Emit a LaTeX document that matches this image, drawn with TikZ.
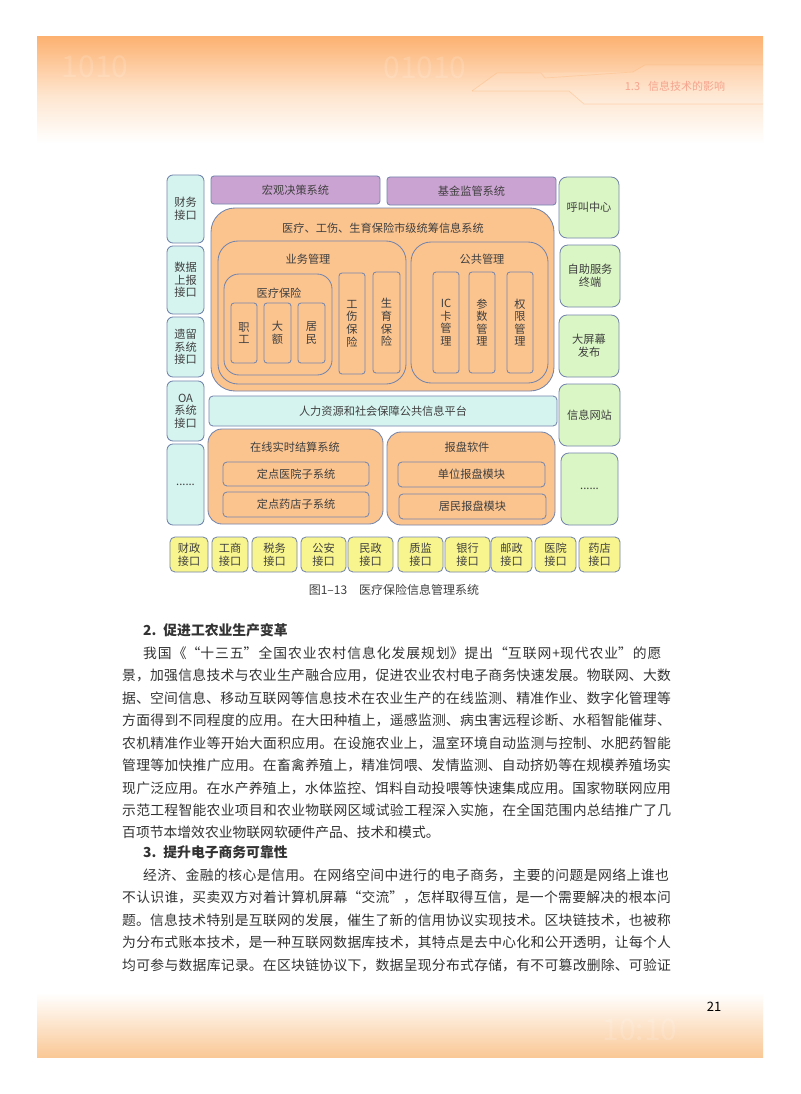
\documentclass[tikz,border=0pt]{standalone}
\usepackage{fontspec}
\usetikzlibrary{fadings}
\setmainfont{Noto Sans CJK SC}
\XeTeXlinebreaklocale "zh"
\XeTeXlinebreakskip=0pt plus 2pt minus 0.3pt
\definecolor{edgeblue}{HTML}{7485AC}
\definecolor{fillorange}{HTML}{FBC48F}
\definecolor{fillpurple}{HTML}{CBA3D2}
\definecolor{fillteal}{HTML}{D6F4EF}
\definecolor{fillgreen}{HTML}{DAF6C4}
\definecolor{fillyellow}{HTML}{F8F58E}
\definecolor{inktext}{HTML}{3F3F3F}
\definecolor{bodyink}{HTML}{333333}
\definecolor{bandhi}{HTML}{FDB272}
\definecolor{bandmid}{HTML}{FEE6D0}
\definecolor{bandlow}{HTML}{FAC896}
\definecolor{headpink}{HTML}{F6A48E}
\tikzset{
  boxbase/.style={draw=edgeblue,line width=0.85pt,inner sep=0pt,outer sep=0pt,align=center,text=inktext,font=\fontsize{11.2}{12.6}\selectfont},
  boxteal/.style={boxbase,fill=fillteal,rounded corners=6pt},
  boxgreen/.style={boxbase,fill=fillgreen,rounded corners=8pt},
  boxyellow/.style={boxbase,fill=fillyellow,rounded corners=5pt},
  boxpurple/.style={boxbase,fill=fillpurple,rounded corners=3pt},
  boxorange/.style={boxbase,fill=fillorange,rounded corners=3pt},
  boxslot/.style={boxorange,rounded corners=3pt},
  boxinner/.style={boxbase,fill=fillorange,rounded corners=4pt},
  titletext/.style={inner sep=0pt,text=inktext,font=\fontsize{11.2}{12.6}\selectfont},
  captiontext/.style={inner sep=0pt,text=inktext,font=\fontsize{12}{14}\selectfont},
  bodytext/.style={inner sep=0pt,anchor=west,text=bodyink,font=\fontsize{13.8}{16}\selectfont},
  headtext/.style={inner sep=0pt,anchor=west,text=bodyink,font=\fontsize{13.8}{16}\selectfont\bfseries},
  bandline/.style={draw=bandhi,line width=0.7pt,opacity=0.45},
  ghost/.style={inner sep=0pt,text=white,opacity=0.14}
}
\newcommand{\mybox}[7]{%
  \pgfmathsetmacro\myw{#5-#3}\pgfmathsetmacro\myh{#6-#4}%
  \node[#1,minimum width=\myw pt,minimum height=\myh pt] (#2) at ({(#3+#5)/2},{(#4+#6)/2}) {#7};}
\newcommand{\fullline}[4]{%
  \pgfmathsetmacro\myw{675-#2}%
  \node[bodytext,text width=\myw pt] (#1) at (#2,#3) {\parfillskip=0pt\parindent=0pt #4\par};}
\begin{document}
\begin{tikzpicture}[x=1pt,y=-1pt]
\useasboundingbox (0,0) rectangle (800,1094);
\fill[white] (0,0) rectangle (800,1094);
% header band
\shade[top color=bandhi,bottom color=bandmid] (37,37) rectangle (763,96);
\shade[top color=bandmid,bottom color=white] (37,96) rectangle (763,143);
\node[ghost,font=\fontsize{30}{30}\selectfont] (ghosta) at (95,67) {1010};
\node[ghost,font=\fontsize{30}{30}\selectfont] (ghostb) at (425,68) {01010};
\draw[bandline] (472,91) -- (497,73) -- (541,73) -- (545,78) -- (633,72) -- (645,65) -- (763,65);
\draw[bandline] (472,91) -- (569,91) -- (584,104) -- (763,104);
\fill[white,opacity=0.12] (584,104) -- (569,91) -- (472,91) -- (497,73) -- (633,72) -- (645,65) -- (763,65) -- (763,104) -- cycle;
\node[inner sep=0pt,text=headpink,font=\fontsize{11}{13}\selectfont] (runhead) at (675,86) {1.3\hspace{8pt}信息技术的影响};
% footer band
\shade[top color=white,bottom color=bandlow] (37,993) rectangle (763,1057);
\node[ghost,font=\fontsize{30}{30}\selectfont] (ghostc) at (640,1030) {10:10};
\node[inner sep=0pt,text=black,font=\fontsize{13}{15}\selectfont] (pageno) at (714,1007) {21};
% left column
\mybox{boxteal}{lfin}{167}{175}{204}{243}{财务\\接口}
\mybox{boxteal}{ldat}{167}{246}{204}{314}{数据\\上报\\接口}
\mybox{boxteal}{lleg}{167}{317}{204}{377}{遗留\\系统\\接口}
\mybox{boxteal}{loa}{167}{381}{204}{441}{OA\\系统\\接口}
\mybox{boxteal}{ldot}{167}{444}{204}{525}{......}
% top purple
\mybox{boxpurple}{macro}{211}{176}{380}{204}{宏观决策系统}
\mybox{boxpurple}{fund}{387}{177}{556}{205}{基金监管系统}
% large system
\mybox{boxorange,rounded corners=24pt}{city}{211}{208}{554}{391}{}
\node[titletext] (citytitle) at (383,228) {医疗、工伤、生育保险市级统筹信息系统};
\mybox{boxorange,rounded corners=20pt}{biz}{218}{241}{406}{384}{}
\node[titletext] (biztitle) at (308,259) {业务管理};
\mybox{boxorange,rounded corners=15pt}{med}{224}{274}{332}{375}{}
\node[titletext] (medtitle) at (279,293) {医疗保险};
\mybox{boxslot}{staff}{231}{303}{257}{363}{职\\工}
\mybox{boxslot}{large}{264}{303}{291}{363}{大\\额}
\mybox{boxslot}{resident}{298}{303}{325}{363}{居\\民}
\mybox{boxslot}{injury}{339}{273}{365}{374}{工\\伤\\保\\险}
\mybox{boxslot}{birth}{373}{272}{400}{373}{生\\育\\保\\险}
\mybox{boxorange,rounded corners=20pt}{pub}{411}{242}{548}{383}{}
\node[titletext] (pubtitle) at (482,259) {公共管理};
\mybox{boxslot}{ic}{433}{272}{459}{373}{IC\\卡\\管\\理}
\mybox{boxslot}{param}{469}{272}{495}{373}{参\\数\\管\\理}
\mybox{boxslot}{right}{507}{272}{533}{373}{权\\限\\管\\理}
% platform
\mybox{boxteal,rounded corners=4pt}{hr}{209}{396}{557}{426}{人力资源和社会保障公共信息平台}
% settlement
\mybox{boxorange,rounded corners=14pt}{online}{208}{429}{383}{524}{}
\node[titletext] (onlinetitle) at (295,447) {在线实时结算系统};
\mybox{boxinner}{hosp}{223}{462}{369}{486}{定点医院子系统}
\mybox{boxinner}{pharm}{223}{492}{369}{517}{定点药店子系统}
\mybox{boxorange,rounded corners=14pt}{report}{387}{432}{555}{525}{}
\node[titletext] (reporttitle) at (467,447) {报盘软件};
\mybox{boxinner}{unit}{398}{462}{545}{487}{单位报盘模块}
\mybox{boxinner}{resrep}{399}{494}{546}{519}{居民报盘模块}
% right column
\mybox{boxgreen}{call}{559}{177}{619}{238}{呼叫中心}
\mybox{boxgreen}{self}{560}{245}{620}{307}{自助服务\\终端}
\mybox{boxgreen}{screen}{559}{315}{619}{377}{大屏幕\\发布}
\mybox{boxgreen}{web}{559}{384}{620}{446}{信息网站}
\mybox{boxgreen}{rdot}{561}{453}{618}{525}{......}
% bottom row
\mybox{boxyellow}{y1}{170}{537}{208}{572}{财政\\接口}
\mybox{boxyellow}{y2}{212}{537}{248}{572}{工商\\接口}
\mybox{boxyellow}{y3}{252}{537}{297}{572}{税务\\接口}
\mybox{boxyellow}{y4}{301}{537}{346}{572}{公安\\接口}
\mybox{boxyellow}{y5}{348}{537}{393}{572}{民政\\接口}
\mybox{boxyellow}{y6}{398}{537}{443}{572}{质监\\接口}
\mybox{boxyellow}{y7}{445}{537}{490}{572}{银行\\接口}
\mybox{boxyellow}{y8}{491}{537}{532}{572}{邮政\\接口}
\mybox{boxyellow}{y9}{535}{537}{576}{572}{医院\\接口}
\mybox{boxyellow}{y10}{579}{537}{620}{572}{药店\\接口}
\node[captiontext] (caption) at (394,590) {图1–13\hspace{12pt}医疗保险信息管理系统};
% body
\node[headtext] (h2) at (143,630) {2.\hspace{7pt}促进工农业生产变革};
\fullline{a1}{143}{653}{我国《“十三五”全国农业农村信息化发展规划》提出“互联网+现代农业”的愿}
\fullline{a2}{122}{675}{景，加强信息技术与农业生产融合应用，促进农业农村电子商务快速发展。物联网、大数}
\fullline{a3}{122}{698}{据、空间信息、移动互联网等信息技术在农业生产的在线监测、精准作业、数字化管理等}
\fullline{a4}{122}{720}{方面得到不同程度的应用。在大田种植上，遥感监测、病虫害远程诊断、水稻智能催芽、}
\fullline{a5}{122}{743}{农机精准作业等开始大面积应用。在设施农业上，温室环境自动监测与控制、水肥药智能}
\fullline{a6}{122}{765}{管理等加快推广应用。在畜禽养殖上，精准饲喂、发情监测、自动挤奶等在规模养殖场实}
\fullline{a7}{122}{788}{现广泛应用。在水产养殖上，水体监控、饵料自动投喂等快速集成应用。国家物联网应用}
\fullline{a8}{122}{810}{示范工程智能农业项目和农业物联网区域试验工程深入实施，在全国范围内总结推广了几}
\node[bodytext] (a9) at (122,832) {百项节本增效农业物联网软硬件产品、技术和模式。};
\node[headtext] (h3) at (143,852) {3.\hspace{7pt}提升电子商务可靠性};
\fullline{b1}{143}{875}{经济、金融的核心是信用。在网络空间中进行的电子商务，主要的问题是网络上谁也}
\fullline{b2}{122}{897}{不认识谁，买卖双方对着计算机屏幕“交流”，怎样取得互信，是一个需要解决的根本问}
\fullline{b3}{122}{920}{题。信息技术特别是互联网的发展，催生了新的信用协议实现技术。区块链技术，也被称}
\fullline{b4}{122}{942}{为分布式账本技术，是一种互联网数据库技术，其特点是去中心化和公开透明，让每个人}
\fullline{b5}{122}{965}{均可参与数据库记录。在区块链协议下，数据呈现分布式存储，有不可篡改删除、可验证}
\end{tikzpicture}
\end{document}
